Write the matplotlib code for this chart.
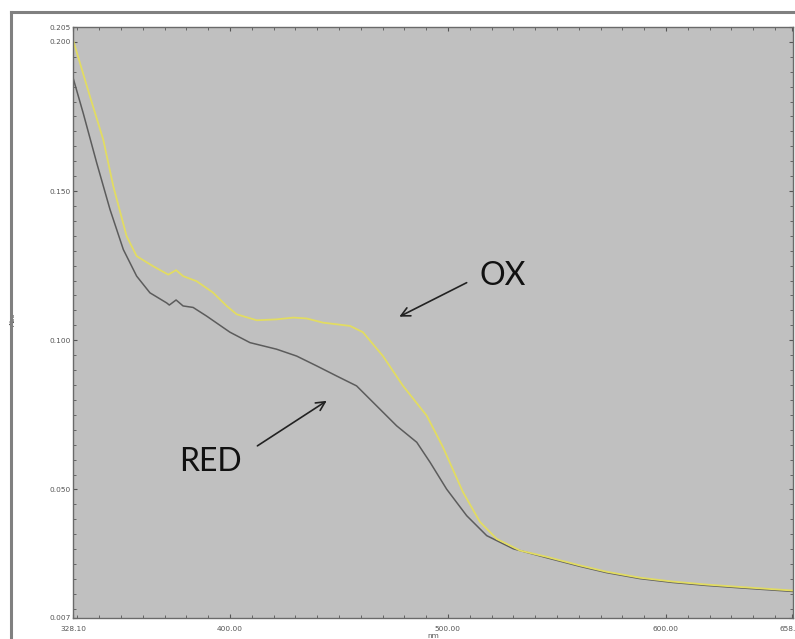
"""UV-vis absorbance spectra, oxidised vs reduced."""
import matplotlib
matplotlib.use("Agg")
import matplotlib.pyplot as plt
from matplotlib.lines import Line2D
from matplotlib.ticker import FixedLocator, FixedFormatter, MultipleLocator

# oxidised form (yellow trace)
OX_NM = [328.1, 335.8, 341.9, 346.5, 352.6, 357.2, 364.8, 371.7, 375.3, 378.5,
         384.7, 392.2, 398.5, 403.1, 412.3, 421.4, 429.1, 435.2, 442.7, 455.1,
         461.0, 470.2, 479.4, 490.3, 497.7, 506.9, 514.7, 522.4, 533.1, 545.3,
         560.6, 572.8, 588.1, 603.2, 618.7, 633.9, 658.3]
OX_ABS = [0.2005, 0.1817, 0.1672, 0.1516, 0.1349, 0.1282, 0.1248, 0.1220, 0.1235, 0.1215,
          0.1198, 0.1160, 0.1115, 0.1087, 0.1067, 0.1070, 0.1076, 0.1073, 0.1059, 0.1048,
          0.1027, 0.0947, 0.0847, 0.0747, 0.0642, 0.0491, 0.0391, 0.0334, 0.0295, 0.0274,
          0.0245, 0.0224, 0.0204, 0.0191, 0.0181, 0.0173, 0.0161]

# reduced form (grey trace)
RED_NM = [328.1, 332.7, 338.9, 345.0, 351.1, 357.2, 363.3, 371.0, 372.2, 375.3,
          378.5, 383.1, 389.3, 400.0, 409.2, 421.4, 430.6, 439.8, 449.0, 458.1,
          467.3, 476.5, 485.7, 491.8, 499.4, 508.6, 517.8, 530.0, 545.3,
          560.6, 572.8, 588.1, 603.2, 618.7, 633.9, 658.3]
RED_ABS = [0.1878, 0.1761, 0.1594, 0.1438, 0.1304, 0.1215, 0.1159, 0.1125, 0.1118, 0.1135,
           0.1115, 0.1110, 0.1081, 0.1027, 0.0992, 0.0970, 0.0947, 0.0914, 0.0880, 0.0847,
           0.0780, 0.0713, 0.0658, 0.0591, 0.0501, 0.0412, 0.0345, 0.0301, 0.0271,
           0.0242, 0.0221, 0.0201, 0.0188, 0.0178, 0.0170, 0.0158]

X_TICKS = [328.10, 400.0, 500.0, 600.0, 658.0]
X_TICK_LABELS = ["328.10", "400.00", "500.00", "600.00", "658.00"]
Y_TICKS = [0.007, 0.050, 0.100, 0.150, 0.200, 0.205]
Y_TICK_LABELS = ["0.007", "0.050", "0.100", "0.150", "0.200", "0.205"]

W, H = 795, 639


def main() -> None:
    fig = plt.figure(figsize=(W / 100, H / 100), dpi=100)
    fig.patch.set_facecolor("white")

    # outer window frame
    fx, fy = 11 / W, 1 - 12 / H
    fig.add_artist(Line2D([fx, fx], [0, fy], transform=fig.transFigure,
                          color="#808080", lw=2.2))
    fig.add_artist(Line2D([fx, 1], [fy, fy], transform=fig.transFigure,
                          color="#808080", lw=2.2))

    left, right = 73.2 / W, 793 / W
    top, bottom = 1 - 27 / H, 1 - 617.7 / H
    ax = fig.add_axes([left, bottom, right - left, top - bottom])
    ax.set_facecolor("#c0c0c0")

    ax.plot(RED_NM, RED_ABS, color="#5c5c5c", lw=1.1)
    ax.plot(OX_NM, OX_ABS, color="#e2dc62", lw=1.3)

    ax.set_xlim(328.1, 658.3)
    ax.set_ylim(0.007, 0.205)

    ax.xaxis.set_major_locator(FixedLocator(X_TICKS))
    ax.xaxis.set_major_formatter(FixedFormatter(X_TICK_LABELS))
    ax.xaxis.set_minor_locator(MultipleLocator(10))
    ax.yaxis.set_major_locator(FixedLocator(Y_TICKS))
    ax.yaxis.set_major_formatter(FixedFormatter(Y_TICK_LABELS))
    ax.yaxis.set_minor_locator(MultipleLocator(0.005))

    ax.tick_params(which="both", direction="in", top=True, right=True,
                   color="#555555", labelsize=5.3, labelcolor="#555555")
    ax.tick_params(which="major", length=3, width=0.8)
    ax.tick_params(which="minor", length=2, width=0.6)
    ax.tick_params(axis="x", pad=6.0)
    ax.tick_params(axis="y", pad=2.0)
    for spine in ax.spines.values():
        spine.set_color("#6a6a6a")
        spine.set_linewidth(1.0)

    ax.set_xlabel("nm", fontsize=5.3, color="#555555", labelpad=1)
    ax.set_ylabel("Abs", fontsize=5.3, color="#555555")
    ax.yaxis.set_label_coords((16 - 73.2) / (793 - 73.2), 1 - (319 - 27) / (617.7 - 27))

    arrow = dict(arrowstyle="->", color="#222222", lw=1.2, mutation_scale=16,
                 shrinkA=0, shrinkB=0)
    ax.annotate("", xy=(477.7, 0.1079), xytext=(508.6, 0.1193), arrowprops=arrow)
    ax.annotate("", xy=(444.4, 0.0797), xytext=(412.6, 0.0646), arrowprops=arrow)
    ax.text(525.3, 0.1216, "OX", fontsize=23, family="Lato", color="#111111",
            ha="center", va="center")
    ax.text(390.9, 0.0592, "RED", fontsize=23, family="Lato", color="#111111",
            ha="center", va="center")

    fig.savefig("out.png", dpi=100)


if __name__ == "__main__":
    main()
